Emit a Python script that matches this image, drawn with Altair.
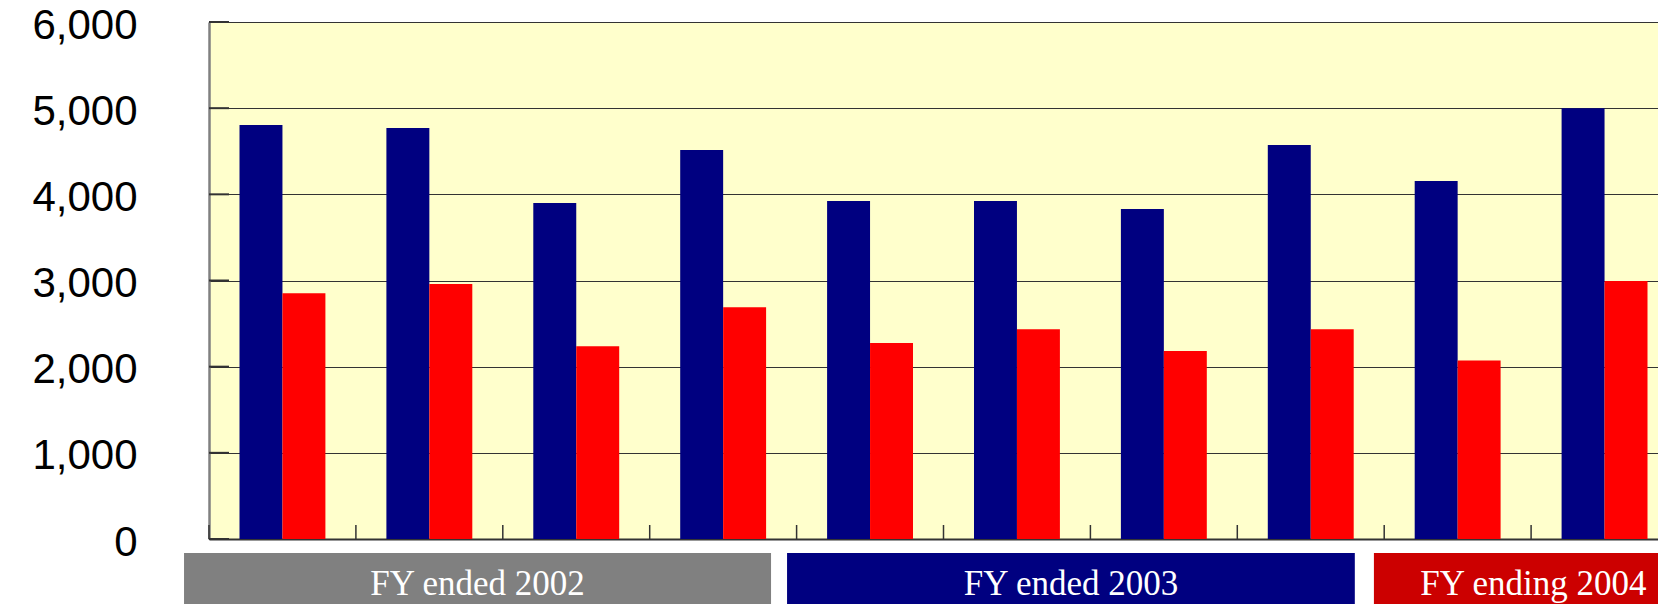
import altair as alt
import pandas as pd

# ---- data ----
categories = ["FY2002 Q1", "FY2002 Q2", "FY2002 Q3", "FY2002 Q4",
              "FY2003 Q1", "FY2003 Q2", "FY2003 Q3", "FY2003 Q4",
              "FY2004 Q1", "FY2004 Q2"]
series_names = ["Series 1", "Series 2"]
series1_values = [4805, 4770, 3899, 4515, 3922, 3922, 3829, 4572, 4155, 5000]
series2_values = [2853, 2958, 2238, 2691, 2275, 2434, 2181, 2434, 2071, 2993]
series_colors = ["#000080", "#FF0000"]

y_ticks = [0, 1000, 2000, 3000, 4000, 5000, 6000]

# period banners below the axis (span in category units)
period_labels = ["FY ended 2002", "FY ended 2003", "FY ending 2004"]
period_start = [-0.17, 3.935, 7.93]
period_end = [3.826, 7.80, 10.1]
period_colors = ["#808080", "#000080", "#CC0000"]

# ---- tables ----
rows = []
for c, v in zip(categories, series1_values):
    rows.append({"cat": c, "series": series_names[0], "value": v})
for c, v in zip(categories, series2_values):
    rows.append({"cat": c, "series": series_names[1], "value": v})
df = pd.DataFrame(rows)
tick_df = pd.DataFrame({"cat": categories})
ytick_df = pd.DataFrame({"v": y_ticks})
box_df = pd.DataFrame({
    "label": period_labels,
    "start": period_start,
    "end": period_end,
    "fillcolor": period_colors,
})
box_df["mid"] = (box_df["start"] + box_df["end"]) / 2

W = 1449
H = 517
XR = [0, 1469]

band_scale = alt.Scale(domain=categories, range=XR, paddingInner=0, paddingOuter=0, round=False)
num_scale = alt.Scale(domain=[0, 10], range=XR, nice=False, zero=False)
y_scale = alt.Scale(domain=[0, 6000], nice=False)

bars = alt.Chart(df).mark_bar().encode(
    x=alt.X("cat:N", sort=categories, scale=band_scale,
            axis=alt.Axis(labels=False, ticks=False, title=None, grid=False,
                          domainColor="#333333", domainWidth=2)),
    xOffset=alt.XOffset("series:N", sort=series_names,
                        scale=alt.Scale(domain=series_names, paddingOuter=0.71,
                                        paddingInner=0, round=False)),
    y=alt.Y("value:Q", scale=y_scale,
            axis=alt.Axis(values=y_ticks, format=",d", title=None, ticks=False, tickSize=0,
                          labelFont="Liberation Sans", labelFontSize=42, labelColor="#000000",
                          labelPadding=72, labelOffset=3, grid=True, gridColor="#333333",
                          gridWidth=1, domainColor="#808080", domainWidth=2.5)),
    color=alt.Color("series:N", scale=alt.Scale(domain=series_names, range=series_colors),
                    legend=None),
)

xticks = alt.Chart(tick_df).mark_rule(color="#333333", strokeWidth=1.5).encode(
    x=alt.X("cat:N", sort=categories, scale=band_scale, bandPosition=0, axis=None),
    y=alt.value(H),
    y2=alt.value(H - 14),
)

yticks = alt.Chart(ytick_df).mark_rule(color="#333333", strokeWidth=2).encode(
    y=alt.Y("v:Q", scale=y_scale),
    x=alt.value(0),
    x2=alt.value(20),
)

boxes = alt.Chart(box_df).mark_rect().encode(
    x=alt.X("start:Q", scale=num_scale, axis=None),
    x2="end:Q",
    y=alt.value(H + 14),
    y2=alt.value(H + 120),
    fill=alt.Fill("fillcolor:N", scale=None),
)

labels = alt.Chart(box_df).mark_text(
    font="Liberation Serif", fontSize=35, color="#FFFFFF",
    align="center", baseline="alphabetic",
).encode(
    x=alt.X("mid:Q", scale=num_scale, axis=None),
    y=alt.value(H + 56),
    text="label:N",
)

chart = alt.layer(bars, xticks, yticks, boxes, labels).resolve_scale(
    x="independent"
).properties(
    width=W,
    height=H,
    padding={"left": 201, "top": 14, "right": 0, "bottom": 65},
    autosize=alt.AutoSizeParams(type="none"),
    background="#FFFFFF",
).configure_view(
    fill="#FFFFCC",
    stroke="transparent",
)

chart.save("out.html", embed_options={"renderer": "svg", "actions": False})
